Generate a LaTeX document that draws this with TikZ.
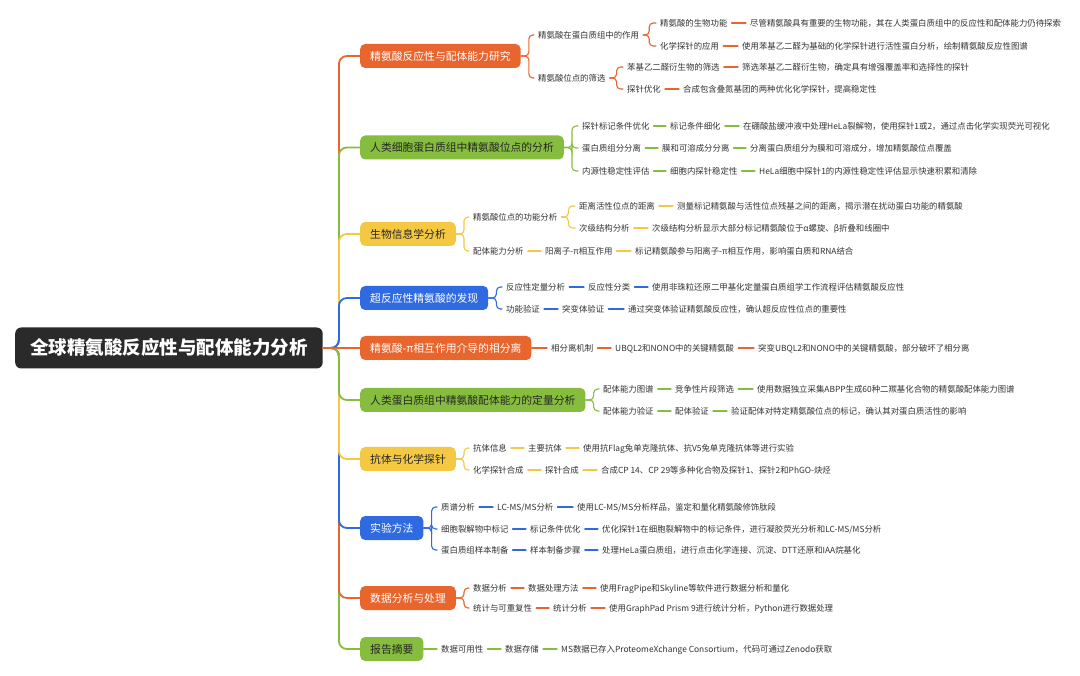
\documentclass[tikz,border=0pt]{standalone}
\usepackage{fontspec}
\newfontfamily\cjk{Noto Sans CJK SC}
\usepackage{tikz}
\usepackage{xcolor}
\definecolor{morange}{HTML}{E8652E}
\definecolor{mgreen}{HTML}{86BD3F}
\definecolor{myellow}{HTML}{F4C843}
\definecolor{mblue}{HTML}{2F6AE0}
\definecolor{mroot}{HTML}{2A2A2A}
\definecolor{txtgray}{HTML}{333333}

\begin{document}
\begin{tikzpicture}[x=1pt,y=-1pt,line cap=round,
  leaf/.style={anchor=west,xshift=-4pt,inner xsep=4pt,inner ysep=1pt,text height=8pt,text depth=1.6pt,text=txtgray,font=\cjk\fontsize{8.4}{10}\selectfont},
  topic/.style={anchor=west,rounded corners=5pt,inner xsep=10pt,inner ysep=0pt,minimum height=24pt,text height=9.5pt,text depth=1.3pt,font=\cjk\fontsize{10.8}{13}\selectfont},
  rootbox/.style={anchor=west,fill=mroot,text=white,rounded corners=6pt,inner xsep=15pt,minimum height=41pt,text height=16.5pt,text depth=2.5pt,font=\cjk\bfseries\fontsize{18.5}{22}\selectfont},
  tor/.style={topic,fill=morange,text=white},
  tgr/.style={topic,fill=mgreen,text=black!85},
  tye/.style={topic,fill=myellow,text=black!85},
  tbl/.style={topic,fill=mblue,text=white},
  lor/.style={draw=morange,line width=1.1pt,rounded corners=4pt},
  lgr/.style={draw=mgreen,line width=1.1pt,rounded corners=4pt},
  lye/.style={draw=myellow,line width=1.1pt,rounded corners=4pt},
  lbl/.style={draw=mblue,line width=1.1pt,rounded corners=4pt},
  spine/.style={line width=1.8pt,rounded corners=8pt}]
\useasboundingbox[fill=white] (0,0) rectangle (1080,676);

\node[rootbox] (root) at (15,348) {全球精氨酸反应性与配体能力分析};

\node[tor] (b1) at (360,56) {精氨酸反应性与配体能力研究};
\node[tgr] (b2) at (360,147.5) {人类细胞蛋白质组中精氨酸位点的分析};
\node[tye] (b3) at (360,234) {生物信息学分析};
\node[tbl] (b4) at (360,298) {超反应性精氨酸的发现};
\node[tor] (b5) at (360,348) {精氨酸-π相互作用介导的相分离};
\node[tgr] (b6) at (360,400) {人类蛋白质组中精氨酸配体能力的定量分析};
\node[tye] (b7) at (360,459) {抗体与化学探针};
\node[tbl] (b8) at (360,528) {实验方法};
\node[tor] (b9) at (360,598) {数据分析与处理};
\node[tgr] (b10) at (360,649) {报告摘要};

\draw[spine,mgreen] (root.east) -- ++(16,0) |- (b10.west);
\draw[spine,morange] (root.east) -- ++(16,0) |- (b9.west);
\draw[spine,mblue] (root.east) -- ++(16,0) |- (b8.west);
\draw[spine,myellow] (root.east) -- ++(16,0) |- (b7.west);
\draw[spine,mgreen] (root.east) -- ++(16,0) |- (b6.west);
\draw[spine,morange] (root.east) -- ++(16,0) |- (b1.west);
\draw[spine,mgreen] (root.east) -- ++(16,0) |- (b2.west);
\draw[spine,myellow] (root.east) -- ++(16,0) |- (b3.west);
\draw[spine,mblue] (root.east) -- ++(16,0) |- (b4.west);
\draw[spine,morange] (root.east) -- (b5.west);

\node[leaf] (b1a) at (538,35) {精氨酸在蛋白质组中的作用};
\node[leaf] (b1a1) at (660,23) {精氨酸的生物功能};
\node[leaf] (b1a1d) at (750,23) {尽管精氨酸具有重要的生物功能，其在人类蛋白质组中的反应性和配体能力仍待探索};
\node[leaf] (b1a2) at (660,46) {化学探针的应用};
\node[leaf] (b1a2d) at (742,46) {使用苯基乙二醛为基础的化学探针进行活性蛋白分析，绘制精氨酸反应性图谱};
\node[leaf] (b1b) at (538,78) {精氨酸位点的筛选};
\node[leaf] (b1b1) at (627,67) {苯基乙二醛衍生物的筛选};
\node[leaf] (b1b1d) at (742,67) {筛选苯基乙二醛衍生物，确定具有增强覆盖率和选择性的探针};
\node[leaf] (b1b2) at (627,89) {探针优化};
\node[leaf] (b1b2d) at (683,89) {合成包含叠氮基团的两种优化化学探针，提高稳定性};
\draw[lor] (b1.east) -- ++(8,0) |- (b1a.west);
\draw[lor] (b1.east) -- ++(8,0) |- (b1b.west);
\draw[lor] (b1a.east) -- ++(6,0) |- (b1a1.west);
\draw[lor] (b1a.east) -- ++(6,0) |- (b1a2.west);
\draw[lor] (b1b.east) -- ++(7,0) |- (b1b1.west);
\draw[lor] (b1b.east) -- ++(7,0) |- (b1b2.west);
\draw[lor] (b1a1) -- (b1a1d);
\draw[lor] (b1a2) -- (b1a2d);
\draw[lor] (b1b1) -- (b1b1d);
\draw[lor] (b1b2) -- (b1b2d);

\node[leaf] (b2a) at (582,126) {探针标记条件优化};
\node[leaf] (b2a1) at (670,126) {标记条件细化};
\node[leaf] (b2a1d) at (743,126) {在硼酸盐缓冲液中处理HeLa裂解物，使用探针1或2，通过点击化学实现荧光可视化};
\node[leaf] (b2b) at (582,148) {蛋白质组分分离};
\node[leaf] (b2b1) at (662,148) {膜和可溶成分分离};
\node[leaf] (b2b1d) at (750,148) {分离蛋白质组分为膜和可溶成分，增加精氨酸位点覆盖};
\node[leaf] (b2c) at (582,171) {内源性稳定性评估};
\node[leaf] (b2c1) at (670,171) {细胞内探针稳定性};
\node[leaf] (b2c1d) at (759,171) {HeLa细胞中探针1的内源性稳定性评估显示快速积累和清除};
\draw[lgr] (b2.east) -- ++(8,0) |- (b2a.west);
\draw[lgr] (b2.east) -- ++(8,0) |- (b2b.west);
\draw[lgr] (b2.east) -- ++(8,0) |- (b2c.west);
\draw[lgr] (b2a) -- (b2a1);
\draw[lgr] (b2a1) -- (b2a1d);
\draw[lgr] (b2b) -- (b2b1);
\draw[lgr] (b2b1) -- (b2b1d);
\draw[lgr] (b2c) -- (b2c1);
\draw[lgr] (b2c1) -- (b2c1d);

\node[leaf] (b3a) at (473,217) {精氨酸位点的功能分析};
\node[leaf] (b3a1) at (579,206) {距离活性位点的距离};
\node[leaf] (b3a1d) at (677,206) {测量标记精氨酸与活性位点残基之间的距离，揭示潜在扰动蛋白功能的精氨酸};
\node[leaf] (b3a2) at (579,228) {次级结构分析};
\node[leaf] (b3a2d) at (652,228) {次级结构分析显示大部分标记精氨酸位于α螺旋、β折叠和线圈中};
\node[leaf] (b3b) at (473,251) {配体能力分析};
\node[leaf] (b3b1) at (545,251) {阳离子-π相互作用};
\node[leaf] (b3b1d) at (635,251) {标记精氨酸参与阳离子-π相互作用，影响蛋白质和RNA结合};
\draw[lye] (b3.east) -- ++(8,0) |- (b3a.west);
\draw[lye] (b3.east) -- ++(8,0) |- (b3b.west);
\draw[lye] (b3a.east) -- ++(7,0) |- (b3a1.west);
\draw[lye] (b3a.east) -- ++(7,0) |- (b3a2.west);
\draw[lye] (b3a1) -- (b3a1d);
\draw[lye] (b3a2) -- (b3a2d);
\draw[lye] (b3b) -- (b3b1);
\draw[lye] (b3b1) -- (b3b1d);

\node[leaf] (b4a) at (506,287) {反应性定量分析};
\node[leaf] (b4a1) at (588,287) {反应性分类};
\node[leaf] (b4a1d) at (652,287) {使用非珠粒还原二甲基化定量蛋白质组学工作流程评估精氨酸反应性};
\node[leaf] (b4b) at (506,309) {功能验证};
\node[leaf] (b4b1) at (562,309) {突变体验证};
\node[leaf] (b4b1d) at (628,309) {通过突变体验证精氨酸反应性，确认超反应性位点的重要性};
\draw[lbl] (b4.east) -- ++(8,0) |- (b4a.west);
\draw[lbl] (b4.east) -- ++(8,0) |- (b4b.west);
\draw[lbl] (b4a) -- (b4a1);
\draw[lbl] (b4a1) -- (b4a1d);
\draw[lbl] (b4b) -- (b4b1);
\draw[lbl] (b4b1) -- (b4b1d);

\node[leaf] (b5a) at (551,348) {相分离机制};
\node[leaf] (b5a1) at (615,348) {UBQL2和NONO中的关键精氨酸};
\node[leaf] (b5a1d) at (758,348) {突变UBQL2和NONO中的关键精氨酸，部分破坏了相分离};
\draw[lor] (b5) -- (b5a);
\draw[lor] (b5a) -- (b5a1);
\draw[lor] (b5a1) -- (b5a1d);

\node[leaf] (b6a) at (603,389) {配体能力图谱};
\node[leaf] (b6a1) at (675,389) {竞争性片段筛选};
\node[leaf] (b6a1d) at (757,389) {使用数据独立采集ABPP生成60种二羰基化合物的精氨酸配体能力图谱};
\node[leaf] (b6b) at (603,411) {配体能力验证};
\node[leaf] (b6b1) at (675,411) {配体验证};
\node[leaf] (b6b1d) at (731,411) {验证配体对特定精氨酸位点的标记，确认其对蛋白质活性的影响};
\draw[lgr] (b6.east) -- ++(8,0) |- (b6a.west);
\draw[lgr] (b6.east) -- ++(8,0) |- (b6b.west);
\draw[lgr] (b6a) -- (b6a1);
\draw[lgr] (b6a1) -- (b6a1d);
\draw[lgr] (b6b) -- (b6b1);
\draw[lgr] (b6b1) -- (b6b1d);

\node[leaf] (b7a) at (473,448) {抗体信息};
\node[leaf] (b7a1) at (528,448) {主要抗体};
\node[leaf] (b7a1d) at (583,448) {使用抗Flag兔单克隆抗体、抗V5兔单克隆抗体等进行实验};
\node[leaf] (b7b) at (473,470) {化学探针合成};
\node[leaf] (b7b1) at (545,470) {探针合成};
\node[leaf] (b7b1d) at (601,470) {合成CP 14、CP 29等多种化合物及探针1、探针2和PhGO-炔烃};
\draw[lye] (b7.east) -- ++(8,0) |- (b7a.west);
\draw[lye] (b7.east) -- ++(8,0) |- (b7b.west);
\draw[lye] (b7a) -- (b7a1);
\draw[lye] (b7a1) -- (b7a1d);
\draw[lye] (b7b) -- (b7b1);
\draw[lye] (b7b1) -- (b7b1d);

\node[leaf] (b8a) at (441,507) {质谱分析};
\node[leaf] (b8a1) at (497,507) {LC-MS/MS分析};
\node[leaf] (b8a1d) at (577,507) {使用LC-MS/MS分析样品，鉴定和量化精氨酸修饰肽段};
\node[leaf] (b8b) at (441,529) {细胞裂解物中标记};
\node[leaf] (b8b1) at (530,529) {标记条件优化};
\node[leaf] (b8b1d) at (602,529) {优化探针1在细胞裂解物中的标记条件，进行凝胶荧光分析和LC-MS/MS分析};
\node[leaf] (b8c) at (441,550) {蛋白质组样本制备};
\node[leaf] (b8c1) at (530,550) {样本制备步骤};
\node[leaf] (b8c1d) at (602,550) {处理HeLa蛋白质组，进行点击化学连接、沉淀、DTT还原和IAA烷基化};
\draw[lbl] (b8.east) -- ++(8,0) |- (b8a.west);
\draw[lbl] (b8.east) -- ++(8,0) |- (b8b.west);
\draw[lbl] (b8.east) -- ++(8,0) |- (b8c.west);
\draw[lbl] (b8a) -- (b8a1);
\draw[lbl] (b8a1) -- (b8a1d);
\draw[lbl] (b8b) -- (b8b1);
\draw[lbl] (b8b1) -- (b8b1d);
\draw[lbl] (b8c) -- (b8c1);
\draw[lbl] (b8c1) -- (b8c1d);

\node[leaf] (b9a) at (473,588) {数据分析};
\node[leaf] (b9a1) at (528,588) {数据处理方法};
\node[leaf] (b9a1d) at (600,588) {使用FragPipe和Skyline等软件进行数据分析和量化};
\node[leaf] (b9b) at (473,608) {统计与可重复性};
\node[leaf] (b9b1) at (553,608) {统计分析};
\node[leaf] (b9b1d) at (609,608) {使用GraphPad Prism 9进行统计分析，Python进行数据处理};
\draw[lor] (b9.east) -- ++(8,0) |- (b9a.west);
\draw[lor] (b9.east) -- ++(8,0) |- (b9b.west);
\draw[lor] (b9a) -- (b9a1);
\draw[lor] (b9a1) -- (b9a1d);
\draw[lor] (b9b) -- (b9b1);
\draw[lor] (b9b1) -- (b9b1d);

\node[leaf] (b10a) at (441,649) {数据可用性};
\node[leaf] (b10a1) at (505,649) {数据存储};
\node[leaf] (b10a1d) at (561,649) {MS数据已存入ProteomeXchange Consortium，代码可通过Zenodo获取};
\draw[lgr] (b10) -- (b10a);
\draw[lgr] (b10a) -- (b10a1);
\draw[lgr] (b10a1) -- (b10a1d);
\end{tikzpicture}
\end{document}
